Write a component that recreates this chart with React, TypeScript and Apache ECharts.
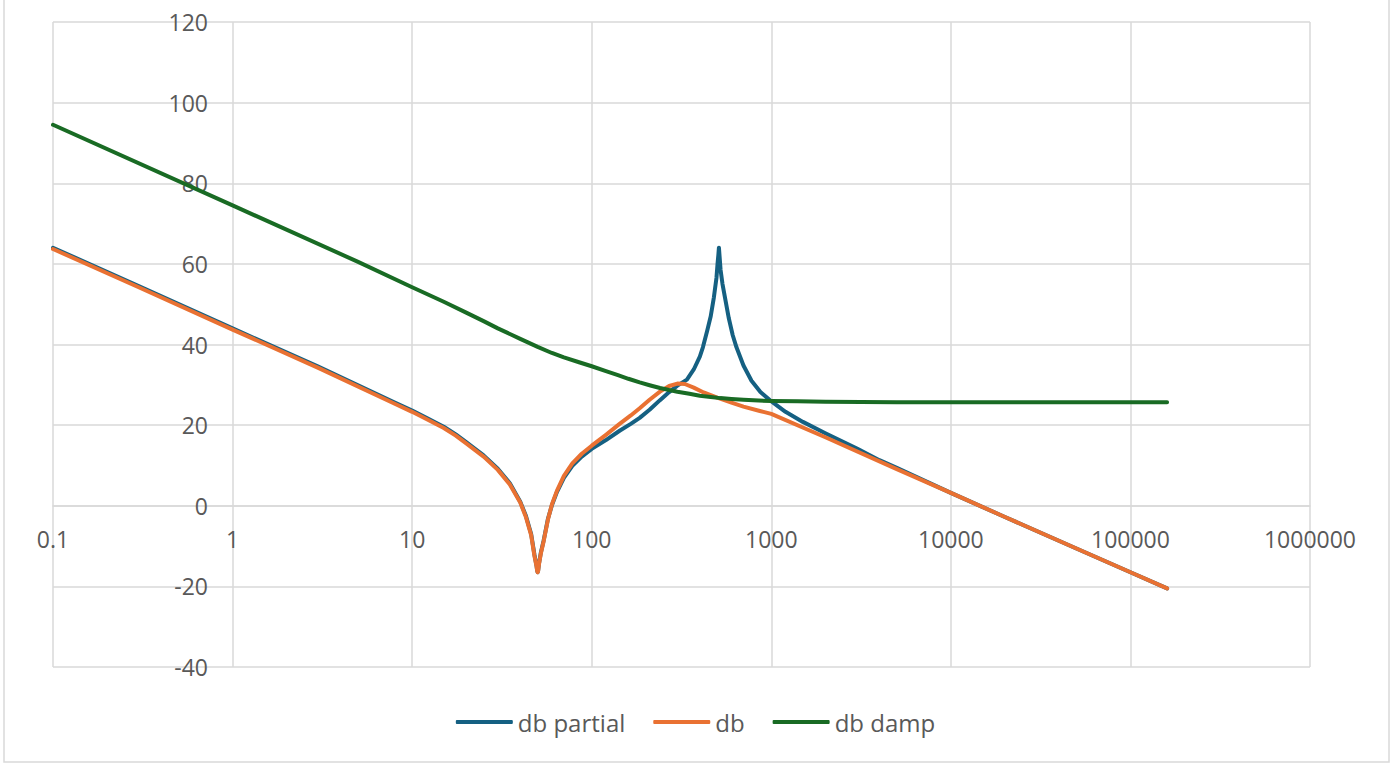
import React, { useEffect, useRef } from "react";
import * as echarts from "echarts";

// Frequency (log axis) tick values shown on the x axis
const xTicks = [0.1, 1, 10, 100, 1000, 10000, 100000, 1000000];
const yTicks = [-40, -20, 0, 20, 40, 60, 80, 100, 120];

// db partial
const partialFreq = [0.1, 0.3, 1, 3, 8, 10, 12, 15, 17.5, 20, 25, 30, 35, 40, 43, 46, 48, 49.3, 49.7, 50, 50.3, 50.8, 52, 54, 57, 60, 64, 70, 78, 88, 100, 120, 143, 165, 185, 210, 240, 270, 300, 339, 370, 400, 416, 440, 460, 479, 495, 502, 508, 511, 515, 522, 535, 552, 580, 610, 640, 700, 776, 870, 981, 1200, 1500, 2000, 3000, 4000, 5000, 10000, 20000, 50000, 100000, 160000];
const partialDb = [64.0, 54.5, 44.0, 34.5, 25.6, 23.6, 21.8, 19.6, 17.7, 15.8, 12.5, 9.2, 5.6, 1.0, -2.5, -7.0, -12.2, -14.9, -16.1, -16.5, -16.1, -14.5, -11.8, -8.6, -3.3, 0.1, 3.4, 6.9, 9.9, 12.2, 14.1, 16.3, 18.6, 20.3, 21.8, 23.8, 26.2, 28.2, 29.8, 31.3, 33.8, 37.0, 39.3, 43.5, 47.0, 51.7, 56.5, 60.0, 62.5, 64.0, 62.0, 58.5, 55.0, 51.7, 46.5, 42.3, 39.3, 34.8, 31.0, 28.2, 26.2, 23.3, 20.8, 18.0, 14.2, 11.3, 9.4, 3.2, -2.8, -10.6, -16.5, -20.5];

// db
const dbFreq = [0.1, 0.3, 1, 3, 8, 10, 12, 15, 17.5, 20, 25, 30, 35, 40, 43, 46, 48, 49.3, 49.7, 50, 50.3, 50.8, 52, 54, 57, 60, 64, 70, 78, 88, 100, 120, 143, 165, 185, 210, 240, 270, 300, 330, 370, 420, 500, 600, 700, 864, 1000, 2000, 5000, 10000, 20000, 50000, 100000, 160000];
const dbValues = [63.7, 54.2, 43.7, 34.2, 25.3, 23.3, 21.5, 19.3, 17.4, 15.5, 12.2, 8.9, 5.3, 0.8, -2.8, -7.3, -12.5, -15.1, -16.2, -16.5, -16.2, -14.7, -12.0, -8.8, -3.5, 0.3, 3.7, 7.4, 10.5, 12.9, 14.9, 17.6, 20.3, 22.4, 24.2, 26.3, 28.3, 29.7, 30.3, 30.2, 29.3, 28.1, 26.8, 25.6, 24.6, 23.5, 22.8, 17.0, 9.1, 3.2, -2.8, -10.6, -16.5, -20.5];

// db damp
const dampFreq = [0.1, 1, 5, 10, 15, 20, 25, 30, 40, 50, 60, 70, 85, 100, 120, 140, 160, 185, 210, 240, 270, 300, 350, 400, 460, 520, 600, 700, 850, 1000, 1400, 2000, 5000, 160000];
const dampDb = [94.5, 74.5, 60.5, 54.2, 50.6, 47.9, 45.8, 44.0, 41.4, 39.4, 37.9, 36.8, 35.6, 34.6, 33.4, 32.4, 31.5, 30.6, 29.9, 29.2, 28.7, 28.3, 27.8, 27.3, 27.0, 26.7, 26.5, 26.3, 26.1, 26.0, 25.9, 25.8, 25.7, 25.7];

const seriesNames = ["db partial", "db", "db damp"];
const seriesColors = ["#156082", "#E97132", "#196B24"];

const pairs = (xs: number[], ys: number[]) => xs.map((x, i) => [x, ys[i]]);

const FONT = "'Open Sans', 'Liberation Sans', sans-serif";
const TEXT = "#595959";
const GRID = "#d9d9d9";

export default function App() {
  const ref = useRef<HTMLDivElement>(null);
  useEffect(() => {
    document.body.style.margin = "0";
    if (!ref.current) return;
    const chart = echarts.init(ref.current, undefined, { renderer: "svg" });
    const datas = [pairs(partialFreq, partialDb), pairs(dbFreq, dbValues), pairs(dampFreq, dampDb)];
    chart.setOption({
      animation: false,
      backgroundColor: "#ffffff",
      textStyle: { fontFamily: FONT },
      grid: { left: 53, right: 81, top: 22, bottom: 98, containLabel: false },
      graphic: [
        {
          type: "rect",
          shape: { x: 4, y: -5, width: 1385, height: 767 },
          style: { fill: "none", stroke: GRID, lineWidth: 1.5 },
          silent: true,
        },
      ],
      legend: {
        data: seriesNames,
        top: 705,
        left: "center",
        icon: "roundRect",
        itemWidth: 57,
        itemHeight: 4,
        itemGap: 28,
        textStyle: { color: TEXT, fontSize: 24, fontFamily: FONT },
      },
      xAxis: {
        type: "log",
        logBase: 10,
        min: xTicks[0],
        max: xTicks[xTicks.length - 1],
        offset: -161,
        axisLine: { show: true, onZero: false, lineStyle: { color: GRID, width: 1.5 } },
        axisTick: { show: false },
        axisLabel: {
          color: TEXT,
          fontSize: 23,
          fontFamily: FONT,
          margin: 21,
          formatter: (v: number) => (v < 1 ? v.toFixed(1) : String(Math.round(v))),
        },
        splitLine: { show: true, lineStyle: { color: GRID, width: 1.5 } },
      },
      yAxis: {
        type: "value",
        min: yTicks[0],
        max: yTicks[yTicks.length - 1],
        interval: 20,
        axisLine: { show: false, onZero: false },
        axisTick: { show: false },
        axisLabel: { color: TEXT, fontSize: 23, fontFamily: FONT, margin: -155 },
        splitLine: { show: true, lineStyle: { color: GRID, width: 1.5 } },
      },
      series: seriesNames.map((name, i) => ({
        name,
        type: "line",
        data: datas[i],
        showSymbol: false,
        symbol: "none",
        smooth: false,
        color: seriesColors[i],
        lineStyle: { width: 4, color: seriesColors[i], cap: "round", join: "round" },
        z: 2 + i,
      })),
    });
    return () => chart.dispose();
  }, []);
  return <div ref={ref} style={{ width: 1391, height: 765 }} />;
}
